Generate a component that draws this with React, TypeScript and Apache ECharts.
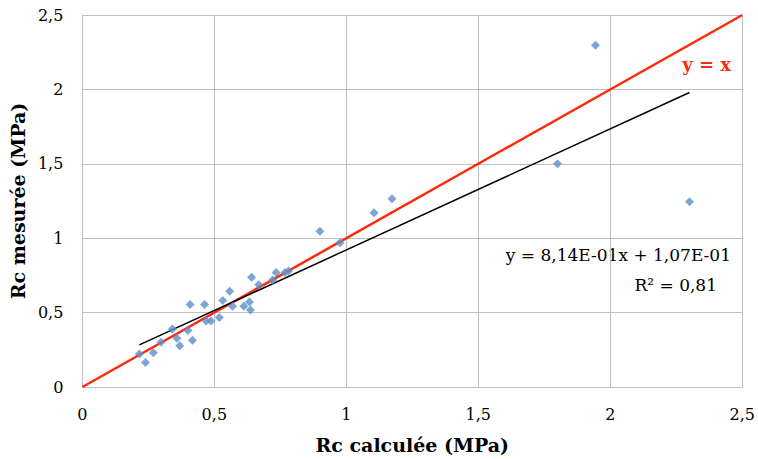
import React, { useEffect, useRef } from "react";
import * as echarts from "echarts";

const calcValues = [0.216, 0.239, 0.269, 0.298, 0.341, 0.358, 0.369, 0.4, 0.408, 0.417, 0.463, 0.469, 0.487, 0.519, 0.532, 0.558, 0.569, 0.612, 0.633, 0.637, 0.641, 0.668, 0.721, 0.734, 0.768, 0.781, 0.9, 0.976, 1.105, 1.173, 1.8, 1.944, 2.3];
const measValues = [0.221, 0.165, 0.23, 0.3, 0.389, 0.328, 0.277, 0.38, 0.554, 0.315, 0.554, 0.444, 0.444, 0.467, 0.581, 0.643, 0.543, 0.543, 0.572, 0.518, 0.737, 0.688, 0.719, 0.769, 0.769, 0.78, 1.046, 0.97, 1.171, 1.265, 1.501, 2.297, 1.245];
const trendSlope = 0.814;
const trendIntercept = 0.107;
const axisTicks = [0, 0.5, 1, 1.5, 2, 2.5];
const eqText = "y = 8,14E-01x + 1,07E-01";
const r2Text = "R² = 0,81";

const FONT = "'DejaVu Serif', 'Liberation Serif', serif";

export default function App() {
  const ref = useRef<HTMLDivElement>(null);
  useEffect(() => {
    if (!ref.current) return;
    const chart = echarts.init(ref.current, null, { renderer: "svg" });
    const pts = calcValues.map((x, i) => [x, measValues[i]]);
    const xmin = Math.min(...calcValues);
    const xmax = Math.max(...calcValues);
    const trend = [
      [xmin, trendSlope * xmin + trendIntercept],
      [xmax, trendSlope * xmax + trendIntercept],
    ];
    const fmt = (v: number) => String(v).replace(".", ",");
    chart.setOption({
      animation: false,
      backgroundColor: "#ffffff",
      grid: { left: 81, right: 15, top: 15, bottom: 71 },
      xAxis: {
        type: "value",
        min: axisTicks[0],
        max: axisTicks[axisTicks.length - 1],
        interval: 0.5,
        name: "Rc calculée (MPa)",
        nameLocation: "middle",
        nameGap: 48,
        nameTextStyle: { fontFamily: FONT, fontWeight: "bold", fontSize: 19, color: "#000" },
        axisLine: { show: true, lineStyle: { color: "#bfbfbf" } },
        axisTick: { show: false },
        axisLabel: { formatter: fmt, fontFamily: FONT, fontSize: 16, color: "#000", margin: 19 },
        splitLine: { show: true, lineStyle: { color: "#bfbfbf", width: 1 } },
      },
      yAxis: {
        type: "value",
        min: axisTicks[0],
        max: axisTicks[axisTicks.length - 1],
        interval: 0.5,
        name: "Rc mesurée (MPa)",
        nameLocation: "middle",
        nameGap: 47,
        nameTextStyle: { fontFamily: FONT, fontWeight: "bold", fontSize: 19, color: "#000" },
        axisLine: { show: true, lineStyle: { color: "#bfbfbf" } },
        axisTick: { show: false },
        axisLabel: { formatter: fmt, fontFamily: FONT, fontSize: 16, color: "#000", margin: 19 },
        splitLine: { show: true, lineStyle: { color: "#bfbfbf", width: 1 } },
      },
      series: [
        {
          type: "line",
          data: [[0, 0], [2.5, 2.5]],
          showSymbol: false,
          symbol: "none",
          lineStyle: { color: "#ff2a0a", width: 2.5 },
          z: 3,
        },
        {
          type: "line",
          data: trend,
          showSymbol: false,
          symbol: "none",
          lineStyle: { color: "#000000", width: 1.5 },
          z: 4,
        },
        {
          type: "scatter",
          data: pts,
          symbol: "diamond",
          symbolSize: 9,
          itemStyle: { color: "#5b8fc9" },
          z: 5,
        },
      ],
      graphic: [
        {
          type: "text",
          right: 27,
          top: 55,
          style: { text: "y = x", fontFamily: FONT, fontWeight: "bold", fontSize: 18, fill: "#ff2a0a" },
        },
        {
          type: "text",
          right: 27,
          top: 246,
          style: { text: eqText, fontFamily: FONT, fontSize: 17, fill: "#000" },
        },
        {
          type: "text",
          right: 41,
          top: 276,
          style: { text: r2Text, fontFamily: FONT, fontSize: 17, fill: "#000" },
        },
      ],
    });
    return () => chart.dispose();
  }, []);
  return (
    <div
      ref={ref}
      style={{ position: "fixed", left: 0, top: 0, width: 758, height: 459, background: "#fff" }}
    />
  );
}
